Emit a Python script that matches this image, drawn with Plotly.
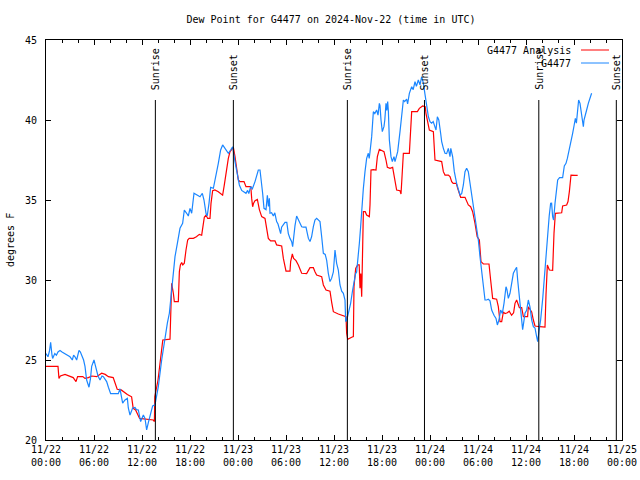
import pandas as pd
import plotly.graph_objects as go

BASE = pd.Timestamp("2024-11-22 00:00")

# ---- G4477 observations (hours since 11/22 00:00 UTC, dew point F)
obs_hours = [0.0, 0.25, 0.45, 0.58, 0.75, 0.83, 1.1, 1.3, 1.5, 1.75, 2.0, 2.375, 2.7, 3.0, 3.29, 3.45,
             3.625, 3.83, 4.125, 4.3, 4.46, 4.7, 4.875, 5.08, 5.375, 5.55, 5.71, 6.0, 6.15, 6.33, 6.5,
             6.75, 7.0, 7.17, 7.4, 7.58, 7.8, 8.08, 8.5, 9.04, 9.25, 9.45, 9.58, 9.875, 10.17, 10.29,
             10.5, 10.83, 11.125, 11.3, 11.54, 11.83, 12.0, 12.17, 12.375, 12.58, 12.8, 13.0, 13.33,
             13.625, 14.04, 14.46, 14.875, 15.17, 15.42, 15.71, 15.92, 16.125, 16.42, 16.75, 17.08,
             17.29, 17.58, 17.79, 18.0, 18.21, 18.5, 18.83, 19.25, 19.54, 19.75, 20.0, 20.15, 20.375,
             20.58, 20.92, 21.25, 21.54, 21.83, 22.08, 22.375, 22.79, 23.08, 23.33, 23.625, 23.92,
             24.17, 24.46, 24.67, 25.0, 25.2, 25.35, 25.58, 25.8, 26.125, 26.33, 26.54, 26.75, 26.87,
             27.08, 27.25, 27.5, 27.67, 27.8, 27.92, 28.0, 28.2, 28.42, 28.6, 28.83, 29.0, 29.17,
             29.33, 29.45, 29.67, 29.875, 30.1, 30.29, 30.5, 30.71, 30.83, 31.0, 31.125, 31.33, 31.55,
             31.75, 31.96, 32.17, 32.5, 32.67, 32.8, 33.0, 33.2, 33.42, 33.62, 33.83, 34.04, 34.25,
             34.46, 34.67, 34.9, 35.08, 35.29, 35.5, 35.7, 35.92, 36.125, 36.33, 36.54, 36.75, 36.96,
             37.17, 37.375, 37.46, 37.6, 37.79, 37.92, 38.08, 38.33, 38.5, 38.7, 38.83, 38.96, 39.17,
             39.33, 39.46, 39.67, 39.875, 40.08, 40.29, 40.4, 40.5, 40.71, 40.92, 41.1, 41.33, 41.5,
             41.67, 41.75, 41.875, 42.04, 42.25, 42.35, 42.5, 42.6, 42.71, 42.8, 42.92, 43.125, 43.29,
             43.5, 43.625, 43.75, 43.96, 44.25, 44.46, 44.67, 44.83, 45.08, 45.2, 45.42, 45.71, 45.9,
             46.125, 46.3, 46.54, 46.75, 46.96, 47.17, 47.375, 47.58, 47.8, 48.0, 48.2, 48.4, 48.625,
             48.75, 48.92, 49.1, 49.33, 49.46, 49.67, 49.875, 50.08, 50.29, 50.5, 50.6, 50.83, 51.04,
             51.33, 51.54, 51.75, 51.96, 52.17, 52.375, 52.58, 52.79, 53.0, 53.2, 53.42, 53.625, 53.83,
             54.04, 54.25, 54.46, 54.67, 54.875, 55.08, 55.29, 55.5, 55.71, 56.0, 56.25, 56.42, 56.62,
             56.83, 57.04, 57.25, 57.5, 57.62, 57.79, 58.0, 58.2, 58.42, 58.625, 58.83, 58.96, 59.125,
             59.25, 59.46, 59.58, 59.67, 59.875, 60.08, 60.29, 60.5, 60.71, 60.92, 61.125, 61.33, 61.46,
             61.67, 61.83, 62.1, 62.3, 62.5, 62.7, 62.9, 63.08, 63.2, 63.33, 63.45, 63.625, 63.83,
             63.96, 64.2, 64.58, 64.79, 65.0, 65.17, 65.42, 65.58, 65.83, 66.0, 66.17, 66.3, 66.42,
             66.58, 66.75, 66.9, 67.04, 67.17, 67.25, 67.42, 67.58, 67.79, 68.0, 68.2]
obs_dewpt = [25.4, 25.2, 25.6, 26.1, 25.3, 25.1, 25.4, 25.3, 25.5, 25.6, 25.5, 25.4, 25.3, 25.2, 25.0, 25.3,
             25.2, 25.0, 25.6, 25.5, 25.3, 25.0, 24.6, 23.75, 23.3, 23.8, 24.6, 25.0, 24.7, 24.3, 24.0,
             23.75, 24.0, 23.96, 23.8, 23.65, 23.3, 22.9, 22.9, 22.9, 23.2, 22.6, 22.3, 22.5, 22.6, 22.0,
             21.56, 22.0, 22.04, 21.9, 21.875, 21.15, 21.4, 21.56, 21.35, 20.63, 21.1, 21.56, 22.13,
             22.2, 23.33, 25.0, 26.46, 27.3, 27.92, 29.58, 30.42, 31.46, 32.29, 33.23, 33.54,
             34.375, 34.17, 34.0, 34.48, 34.17, 35.42, 35.3, 35.2, 35.42, 35.0, 34.17, 34.0, 34.79,
             35.79, 35.73, 36.46, 37.29, 38.125, 38.44, 38.23, 37.92, 38.125, 38.33, 37.4, 36.67,
             35.94, 35.6, 35.52, 35.42, 35.6, 35.4, 35.83, 35.7, 36.15, 36.46, 36.875, 36.875, 36.46,
             35.42, 34.48, 34.4, 35.3, 34.6, 35.1, 34.17, 34.2, 34.0, 34.2, 33.65, 33.5, 33.125,
             32.9, 33.3, 33.5, 33.6, 33.6, 32.9, 32.6, 32.4, 32.08, 32.9, 33.4, 34.0, 33.75,
             33.54, 33.33, 33.3, 33.3, 32.9, 32.6, 32.4, 32.7, 33.33, 33.75, 33.85, 33.75, 33.65,
             32.7, 31.67, 31.6, 31.25, 30.42, 29.9, 30.1, 30.5, 31.875, 31.04, 30.625, 29.69, 29.3,
             29.17, 28.75, 27.4, 27.5, 27.92, 28.1, 28.54, 29.375, 30.0, 30.4, 30.5, 31.04, 32.3,
             33.33, 34.58, 35.73, 36.77, 37.6, 37.92, 37.6, 38.0, 38.96, 40.52, 40.4, 40.625, 40.3,
             41.04, 40.9, 40.0, 39.27, 39.6, 40.0, 41.04, 40.6, 41.15, 40.52, 38.75, 37.71, 37.4,
             37.71, 37.4, 37.6, 38.02, 39.27, 40.42, 41.25, 41.15, 41.3, 41.0, 41.67, 42.08, 41.9,
             42.4, 42.1, 42.5, 42.2, 42.71, 42.3, 41.6, 40.8, 40.2, 39.9, 39.8, 39.9, 39.5,
             39.375, 40.2, 40.0, 39.17, 38.65, 38.23, 37.92, 37.9, 38.23, 37.71, 38.23, 37.71, 36.77,
             36.04, 35.625, 35.31, 35.4, 35.94, 36.77, 36.98, 36.77, 36.04, 35.2, 34.58, 33.96, 33.33,
             32.5, 31.46, 30.42, 29.375, 28.75, 28.75, 28.8, 28.7, 28.125, 27.8, 27.6, 27.19, 27.5,
             28.125, 27.9, 28.54, 29.58, 29.4, 28.85, 29.17, 29.69, 30.42, 30.625, 30.8, 30.0, 29.17,
             28.5, 27.5, 26.9, 27.2, 27.92, 28.1, 28.75, 28.3, 27.5, 27.08, 27.0, 26.46, 26.15,
             26.98, 27.5, 28.9, 30.3, 31.6, 32.9, 34.0, 34.79, 34.8, 33.96, 33.75, 34.79, 35.52,
             36.25, 36.4, 36.4, 37.125, 37.29, 37.6, 38.125, 38.65, 39.17, 39.625, 40.1, 39.8, 40.3,
             41.25, 41.04, 40.42, 40.1, 39.58, 40.0, 40.42, 40.625, 41.04, 41.46, 41.67]

# ---- G4477 Analysis
ana_hours = [0.0, 1.5, 1.62, 1.8, 2.375, 3.0, 3.4, 3.75, 3.95, 4.6, 4.875, 5.3, 5.71, 6.33, 6.96, 7.4,
             7.8, 8.4, 8.9, 9.4, 9.875, 10.17, 10.7, 10.9, 11.2, 11.7, 13.4, 13.55, 13.6, 14.0, 14.2,
             14.6, 15.5, 15.71, 15.92, 16.04, 16.54, 16.67, 16.8, 16.96, 17.1, 17.29, 17.5, 17.71, 17.9,
             18.42, 18.8, 19.17, 19.46, 19.58, 19.79, 20.0, 20.21, 20.5, 20.625, 20.83, 21.1, 21.54,
             21.8, 22.08, 22.29, 22.5, 22.79, 23.0, 23.2, 23.42, 23.625, 23.83, 24.04, 24.25, 24.75,
             25.0, 25.6, 25.71, 25.83, 25.95, 26.125, 26.42, 26.67, 26.96, 27.375, 27.58, 27.79, 28.08,
             28.625, 28.83, 29.46, 29.67, 30.0, 30.5, 30.58, 30.79, 30.95, 31.25, 31.54, 31.96, 32.58,
             33.0, 33.42, 33.62, 33.83, 34.46, 34.67, 35.0, 35.5, 35.71, 35.92, 36.54, 37.17, 37.5,
             37.58, 37.71, 38.21, 38.42, 38.5, 38.71, 38.96, 39.15, 39.25, 39.35, 39.46, 39.55, 39.67,
             39.9, 40.08, 40.42, 40.5, 40.625, 40.92, 41.25, 41.42, 41.67, 41.9, 42.25, 42.5, 42.67,
             43.0, 43.33, 43.5, 43.625, 43.83, 44.25, 44.375, 44.45, 44.58, 44.67, 45.42, 45.58, 45.71,
             46.42, 46.67, 47.08, 47.4, 47.5, 47.67, 47.92, 48.42, 48.5, 48.625, 49.46, 49.67, 49.875,
             50.29, 50.5, 50.71, 50.9, 51.29, 51.46, 51.67, 51.83, 52.375, 52.58, 52.79, 53.08, 53.33,
             53.625, 53.83, 53.9, 54.17, 54.375, 54.67, 55.375, 55.58, 55.83, 56.33, 56.54, 56.75,
             56.96, 57.17, 57.38, 57.67, 57.9, 58.2, 58.45, 58.625, 58.83, 59.17, 59.46, 59.67, 60.2,
             60.29, 60.5, 60.71, 60.92, 61.125, 61.75, 62.375, 62.5, 62.67, 62.92, 63.33, 63.5, 63.67,
             64.46, 64.58, 65.08, 65.25, 65.42, 65.625, 66.125, 66.46]
ana_dewpt = [24.6, 24.6, 23.85, 24.0, 24.1, 23.96, 23.9, 23.65, 23.96, 23.96, 23.85, 23.9, 24.0, 23.96, 24.17, 24.1,
             23.96, 23.9, 23.17, 23.13, 22.92, 22.85, 22.7, 21.98, 21.875, 21.35, 21.25, 21.15, 22.7, 23.75, 24.58,
             26.25, 26.3, 29.79, 29.17, 28.65, 28.65, 30.52, 30.94, 31.1, 30.94, 31.05, 31.875, 32.5, 32.6,
             32.6, 32.7, 32.85, 32.8, 33.33, 33.92, 34.06, 33.85, 33.85, 34.79, 35.58, 35.625, 35.52,
             35.42, 35.3, 35.94, 36.67, 37.6, 38.02, 38.17, 38.29, 37.71, 36.875, 36.25, 36.15, 36.15,
             35.83, 35.83, 35.1, 34.58, 34.8, 34.96, 35.04, 34.4, 33.96, 33.85, 33.23, 32.6, 32.44,
             32.44, 32.19, 32.125, 31.35, 30.56, 30.56, 31.15, 31.625, 31.35, 31.21, 30.94, 30.42, 30.4,
             30.77, 30.77, 30.52, 30.31, 30.21, 29.69, 29.375, 29.3, 28.6, 28.02, 27.875, 27.75, 27.71,
             26.67, 26.29, 26.42, 26.46, 29.58, 30.73, 30.94, 30.94, 29.48, 30.4, 28.96, 30.8, 34.27,
             34.27, 34.06, 33.96, 34.69, 36.875, 36.9, 36.875, 37.71, 38.17, 38.125, 38.02, 37.5, 37.04,
             36.98, 37.04, 36.56, 36.15, 35.625, 35.58, 35.375, 36.0, 37.29, 37.92, 37.92, 39.17, 40.52,
             40.52, 40.73, 40.875, 40.83, 40.4, 39.9, 39.375, 39.27, 38.65, 37.5, 37.4, 36.77, 36.56,
             36.56, 36.46, 36.15, 36.04, 36.04, 35.73, 35.31, 35.17, 35.17, 34.9, 34.69, 34.58, 34.27,
             33.54, 32.8, 32.7, 32.5, 31.15, 31.0, 31.0, 30.0, 28.85, 28.8, 28.33, 27.4,
             27.4, 28.0, 27.9, 27.95, 28.05, 27.8, 27.95, 28.54, 28.75, 28.27, 28.27, 27.71, 27.71,
             28.33, 28.2, 28.0, 27.5, 27.125, 27.08, 27.06, 29.1, 30.94, 30.625, 30.6, 32.92, 34.17,
             34.2, 34.625, 34.69, 34.9, 35.52, 36.56, 36.54, 36.54]

# ---- Sunrise / sunset markers (hours since 11/22 00:00 UTC)
sun_hours = [13.67, 23.42, 37.67, 47.31, 61.6, 71.29]
sun_labels = ["Sunrise", "Sunset", "Sunrise", "Sunset", "Sunrise", "Sunset"]

RED = "#ff0000"
BLUE = "#1a86ff"
FONT = "DejaVu Sans Mono"


def to_time(hours):
    return BASE + pd.to_timedelta(hours, unit="h")


fig = go.Figure()
fig.add_trace(go.Scatter(x=to_time(ana_hours), y=ana_dewpt, mode="lines",
                         line=dict(color=RED, width=1.2), name="G4477 Analysis"))
fig.add_trace(go.Scatter(x=to_time(obs_hours), y=obs_dewpt, mode="lines",
                         line=dict(color=BLUE, width=1.2), name="G4477"))

shapes = []
annotations = []
for h, lab in zip(sun_hours, sun_labels):
    t = BASE + pd.Timedelta(hours=h)
    shapes.append(dict(type="line", xref="x", yref="paper", x0=t, x1=t, y0=0, y1=0.85,
                       line=dict(color="black", width=1)))
    annotations.append(dict(x=t, y=0.87, xref="x", yref="paper", text=lab, showarrow=False,
                            textangle=-90, xanchor="center", yanchor="bottom",
                            font=dict(family=FONT, size=10, color="black")))

# legend (gnuplot style: text then sample line)
L, W, T, H = 46, 576, 40, 400
for name, col, ypix in [("G4477 Analysis", RED, 50), ("G4477", BLUE, 63)]:
    yp = ((T + H) - ypix) / H
    annotations.append(dict(x=(573 - L) / W, y=yp, xref="paper", yref="paper", text=name,
                            showarrow=False, xanchor="right", yanchor="middle",
                            font=dict(family=FONT, size=10, color="black")))
    shapes.append(dict(type="line", xref="paper", yref="paper", x0=(581 - L) / W, x1=(609 - L) / W,
                       y0=yp, y1=yp, line=dict(color=col, width=1)))

annotations.append(dict(x=(10 - L) / W, y=0.5, xref="paper", yref="paper", text="degrees F",
                        showarrow=False, textangle=-90, xanchor="center", yanchor="middle",
                        font=dict(family=FONT, size=10, color="black")))

fig.update_layout(
    width=640, height=480,
    margin=dict(l=46, r=18, t=40, b=40, autoexpand=False),
    paper_bgcolor="white", plot_bgcolor="white",
    showlegend=False,
    font=dict(family=FONT, size=10, color="black"),
    title=dict(text="Dew Point for G4477 on 2024-Nov-22 (time in UTC)", x=331 / 640, xanchor="center",
               y=1 - 19 / 480, yanchor="middle", font=dict(family=FONT, size=10, color="black")),
    shapes=shapes, annotations=annotations,
)
fig.update_xaxes(
    range=[BASE, BASE + pd.Timedelta(hours=72)], automargin=False,
    dtick=6 * 3600 * 1000, tick0=BASE, tickformat="%m/%d<br>%H:%M",
    ticks="inside", ticklen=5, tickcolor="black", showgrid=False, zeroline=False,
    showline=True, linecolor="black", linewidth=1, mirror="ticks",
    minor=dict(dtick=2 * 3600 * 1000, ticks="inside", ticklen=3, tickcolor="black", showgrid=False),
    tickfont=dict(family=FONT, size=10, color="black"),
)
fig.update_yaxes(
    range=[20, 45], dtick=5, ticks="inside", ticklen=5, tickcolor="black", automargin=False,
    showgrid=False, zeroline=False, showline=True, linecolor="black", linewidth=1, mirror="ticks",
    tickfont=dict(family=FONT, size=10, color="black"), ticklabelstandoff=6,
)

fig.write_html("out.html", config={"displayModeBar": False},
               post_script="document.body.style.margin='0';document.body.style.padding='0';")
